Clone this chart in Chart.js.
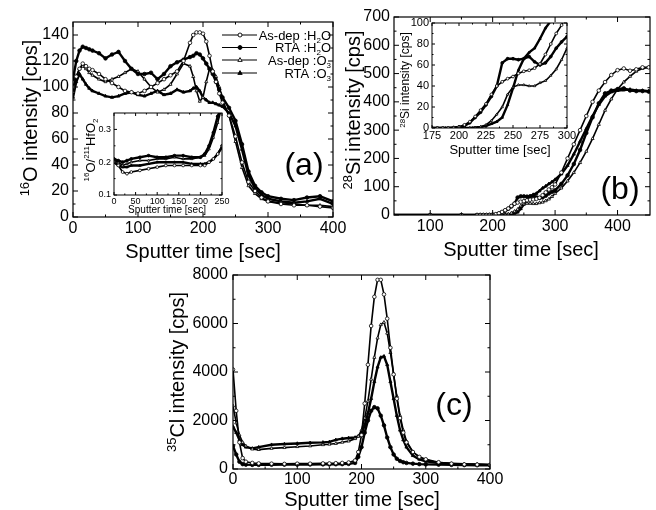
<!DOCTYPE html>
<html>
<head>
<meta charset="utf-8">
<script src="https://cdn.jsdelivr.net/npm/chart.js@4.4.1/dist/chart.umd.min.js"></script>
<style>
  html, body { margin: 0; padding: 0; background: #fff; }
  #wrap { position: relative; width: 656px; height: 510px; overflow: hidden; background: #fff; }
  #wrap canvas { position: absolute; left: 0; top: 0; }
</style>
</head>
<body>
<div id="wrap">
  <canvas id="chartA" width="656" height="510"></canvas>
  <canvas id="chartB" width="656" height="510"></canvas>
  <canvas id="chartC" width="656" height="510"></canvas>
  <canvas id="insetA" width="656" height="510"></canvas>
  <canvas id="insetB" width="656" height="510"></canvas>
</div>
<script>
// ── data ─────────────────────────────────────────────
// (a) 16O intensity
const aTime = [0,5,10,15,20,25,30,40,50,60,70,80,90,100,110,120,130,140,150,160,170,180,185,190,195,200,205,210,215,220,225,230,240,250,260,270,280,290,300,320,340,360,380,400];
const aAsDepH2O = [100,108,114,118,116,114,113,110,106,103,100,97,96,95,97,100,103,106,109,112,120,134,140,142,142,141,135,124,112,104,95,88,78,62,42,27,20,15,12,10,9,9,8,7];
const aRtaH2O = [106,120,128,131,130,129,128,126,122,125,127,120,114,110,110,111,106,110,116,119,121,123,124,126,125,122,118,114,110,104,98,92,84,74,56,35,24,19,16,14,13,15,16,12];
const aAsDepO3 = [96,108,114,116,114,111,109,106,104,106,108,111,114,112,106,100,96,98,102,110,118,116,108,97,89,92,104,114,113,108,100,90,78,58,38,24,18,14,12,11,10,9,9,8];
const aRtaO3 = [92,104,110,106,102,99,97,95,93,92,93,95,96,94,93,95,97,94,95,98,96,97,99,100,97,92,90,88,88,87,86,85,80,70,52,32,22,17,14,12,11,12,14,10];
const aXTicks = [0,100,200,300,400];
const aYTicks = [0,20,40,60,80,100,120,140];

// (a) inset 16O/211HfO2
const iaTime = [0,10,20,30,40,60,80,100,120,140,160,180,200,210,220,230,240,250];
const iaAsDepH2O = [0.2,0.19,0.17,0.165,0.17,0.175,0.18,0.185,0.19,0.19,0.19,0.19,0.19,0.19,0.2,0.21,0.225,0.25];
const iaRtaH2O = [0.21,0.205,0.2,0.205,0.21,0.215,0.22,0.215,0.215,0.22,0.22,0.215,0.215,0.225,0.25,0.29,0.34,0.37];
const iaAsDepO3 = [0.205,0.2,0.19,0.195,0.2,0.205,0.205,0.21,0.21,0.215,0.21,0.21,0.215,0.22,0.24,0.275,0.32,0.37];
const iaRtaO3 = [0.2,0.19,0.185,0.185,0.19,0.19,0.195,0.2,0.2,0.2,0.2,0.195,0.195,0.195,0.2,0.21,0.225,0.245];
const iaXTicks = [0,50,100,150,200,250];
const iaYTicks = [0.1,0.2,0.3];

// (b) 28Si intensity (main and inset share the data)
const bTime = [40,100,150,175,180,185,190,195,200,205,210,215,220,225,230,235,240,245,250,255,260,265,270,275,280,285,290,295,300,310,320,330,340,350,360,370,380,390,400,410,420,430,440,450];
const bAsDepH2O = [0,0,0,0,0,0,0,0,1,3,6,11,17,23,32,40,44,47,49,52,54,55,57,61,70,80,90,98,108,150,200,250,300,350,400,440,470,495,512,518,510,515,522,522];
const bRtaH2O = [0,0,0,0,0,0,0,0.5,1,2,5,10,15,22,30,40,62,66,66,65,66,68,63,60,62,68,76,82,87,110,140,180,230,290,345,395,430,440,445,448,440,438,438,436];
const bAsDepO3 = [0,0,0,0,0,0,0,0,0,0,0,0,1,3,7,13,20,32,39,41,41,40,40,43,45,50,56,65,76,95,120,150,185,225,270,320,370,410,445,470,490,508,518,522];
const bRtaO3 = [0,0,0,0,0,0,0,0,0,0,0,0.5,1,2,4,6,10,22,38,55,66,72,76,85,95,102,110,117,125,145,175,215,260,305,350,390,420,435,440,442,444,440,440,438];
const bXTicks = [100,200,300,400];
const bYTicks = [0,100,200,300,400,500,600,700];
const ibXTicks = [175,200,225,250,275,300];
const ibYTicks = [0,20,40,60,80,100];

// (c) 35Cl intensity
const cTime = [0,5,10,15,20,30,40,60,80,100,120,140,150,160,170,180,190,195,200,205,210,215,220,225,230,235,240,245,250,255,260,265,270,280,290,300,320,340,360,380,400];
const cAsDepH2O = [4100,2400,1100,450,300,250,230,220,210,220,220,230,230,240,250,270,350,700,1400,2700,4300,5900,7100,7800,7800,7200,6200,5000,3900,2900,2100,1500,1100,700,500,400,280,220,190,180,170];
const cRtaH2O = [950,600,300,200,180,170,170,175,180,180,185,190,190,195,200,210,250,500,900,1500,2000,2400,2550,2500,2200,1800,1300,900,600,420,330,280,250,220,200,190,180,170,160,155,150];
const cAsDepO3 = [2600,1900,1400,1100,950,820,800,850,880,920,950,1000,1020,1050,1100,1150,1250,1350,1600,2100,2800,3700,4600,5400,5950,6050,5600,4800,3900,3000,2200,1600,1150,700,500,380,260,220,200,190,180];
const cRtaO3 = [1750,1500,1200,1000,900,850,900,1000,1030,1050,1080,1100,1120,1200,1250,1280,1300,1350,1450,1800,2300,2900,3600,4200,4600,4650,4300,3600,2900,2200,1600,1200,900,550,400,320,250,220,200,190,170];
const cXTicks = [0,100,200,300,400];
const cYTicks = [0,2000,4000,6000,8000];

// ── style ────────────────────────────────────────────
const W = 656, H = 510;
const FONT = "'Liberation Sans', Arial, Helvetica, sans-serif";
// order: As-dep H2O, RTA H2O, As-dep O3, RTA O3
const STYLE = [
  { shape: "circle", fill: "#fff", lw: 1.6 },
  { shape: "circle", fill: "#000", lw: 2.4 },
  { shape: "triangle", fill: "#fff", lw: 1.6 },
  { shape: "triangle", fill: "#000", lw: 2.4 },
];
const LEGEND = [
  [["As-dep :H", ""], ["2", "sub"], ["O", ""]],
  [["RTA :H", ""], ["2", "sub"], ["O", ""]],
  [["As-dep :O", ""], ["3", "sub"]],
  [["RTA :O", ""], ["3", "sub"]],
];

function drawRich(ctx, parts, x, y, size, rotate, align) {
  ctx.save();
  ctx.translate(x, y);
  if (rotate) ctx.rotate(-Math.PI / 2);
  const small = Math.round(size * 0.64);
  const widths = parts.map(([t, k]) => {
    ctx.font = (k ? small : size) + "px " + FONT;
    return ctx.measureText(t).width;
  });
  const total = widths.reduce((s, w) => s + w, 0);
  let cx = align === "right" ? -total : align === "left" ? 0 : -total / 2;
  ctx.fillStyle = "#000";
  ctx.textAlign = "left";
  ctx.textBaseline = "alphabetic";
  parts.forEach(([t, k], i) => {
    ctx.font = (k ? small : size) + "px " + FONT;
    const dy = k === "sup" ? -size * 0.4 : k === "sub" ? size * 0.22 : 0;
    ctx.fillText(t, cx, size * 0.36 + dy);
    cx += widths[i];
  });
  ctx.restore();
}

function drawMarker(ctx, shape, fill, x, y, r) {
  ctx.beginPath();
  if (shape === "circle") {
    ctx.arc(x, y, r, 0, Math.PI * 2);
  } else {
    ctx.moveTo(x, y - r * 1.2);
    ctx.lineTo(x + r * 1.1, y + r * 0.7);
    ctx.lineTo(x - r * 1.1, y + r * 0.7);
    ctx.closePath();
  }
  ctx.fillStyle = fill;
  ctx.fill();
  ctx.lineWidth = 0.9;
  ctx.strokeStyle = "#000";
  ctx.stroke();
}

// frame, inward ticks, titles and legend
const framePlugin = {
  id: "frame",
  beforeDraw(chart, args, opts) {
    if (!opts.white) return;
    const a = chart.chartArea;
    const ctx = chart.ctx;
    ctx.save();
    ctx.fillStyle = "#fff";
    ctx.fillRect(a.left, a.top, a.right - a.left, a.bottom - a.top);
    ctx.restore();
  },
  afterDraw(chart, args, opts) {
    const { ctx, chartArea: a, scales } = chart;
    const L = opts.tick || 5;
    ctx.save();
    ctx.strokeStyle = "#000";
    ctx.lineWidth = opts.lw || 1.2;
    ctx.strokeRect(a.left, a.top, a.right - a.left, a.bottom - a.top);
    ctx.lineWidth = 1;
    ctx.beginPath();
    const xs = scales.x.ticks.map((t) => scales.x.getPixelForValue(t.value));
    const ys = scales.y.ticks.map((t) => scales.y.getPixelForValue(t.value));
    xs.forEach((px, i) => {
      ctx.moveTo(px, a.bottom); ctx.lineTo(px, a.bottom - L);
      ctx.moveTo(px, a.top); ctx.lineTo(px, a.top + L);
      if (i > 0) {
        const m = (px + xs[i - 1]) / 2;
        ctx.moveTo(m, a.bottom); ctx.lineTo(m, a.bottom - L / 2);
        ctx.moveTo(m, a.top); ctx.lineTo(m, a.top + L / 2);
      }
    });
    ys.forEach((py, i) => {
      ctx.moveTo(a.left, py); ctx.lineTo(a.left + L, py);
      ctx.moveTo(a.right, py); ctx.lineTo(a.right - L, py);
      if (i > 0) {
        const m = (py + ys[i - 1]) / 2;
        ctx.moveTo(a.left, m); ctx.lineTo(a.left + L / 2, m);
        ctx.moveTo(a.right, m); ctx.lineTo(a.right - L / 2, m);
      }
    });
    ctx.stroke();
    (opts.texts || []).forEach((t) => drawRich(ctx, t.parts, t.x, t.y, t.size, t.rot, t.align));
    if (opts.legend) {
      const rows = [35, 47.5, 60, 73];
      rows.forEach((ry, i) => {
        ctx.beginPath();
        ctx.moveTo(222, ry); ctx.lineTo(257, ry);
        ctx.lineWidth = 1.2;
        ctx.strokeStyle = "#000";
        ctx.stroke();
        drawMarker(ctx, STYLE[i].shape, STYLE[i].fill, 240, ry, 2);
        drawRich(ctx, LEGEND[i], 331, ry, 13, false, "right");
      });
    }
    ctx.restore();
  },
};

function lines(times, series, pr) {
  return series.map((vals, i) => ({
    data: times.map((t, j) => ({ x: t, y: vals[j] })),
    borderColor: "#000",
    borderWidth: STYLE[i].lw,
    pointStyle: STYLE[i].shape,
    pointRadius: pr,
    pointBackgroundColor: STYLE[i].fill,
    pointBorderColor: "#000",
    pointBorderWidth: 0.8,
    tension: 0,
    clip: 0,
  }));
}

function makeChart(id, o) {
  const axis = (ticks, min, max, size, pad, fit, fmt) => ({
    type: "linear",
    min: min,
    max: max,
    grid: { display: false, drawTicks: false },
    border: { display: false },
    afterFit: fit,
    afterBuildTicks: (s) => { s.ticks = ticks.map((v) => ({ value: v })); },
    ticks: {
      color: "#000",
      font: { family: FONT, size: size },
      padding: pad,
      maxRotation: 0,
      autoSkip: false,
      callback: fmt || ((v) => String(v)),
    },
  });
  return new Chart(document.getElementById(id), {
    type: "line",
    data: { datasets: o.datasets },
    options: {
      responsive: false,
      animation: false,
      events: [],
      layout: {
        padding: { left: o.box.l - o.yW, top: o.box.t, right: W - o.box.r, bottom: H - o.box.b - o.xH },
      },
      plugins: { legend: { display: false }, tooltip: { enabled: false }, frame: o.frame },
      scales: {
        x: axis(o.xTicks, o.xMin, o.xMax, o.font, o.xPad, (s) => { s.height = o.xH; }),
        y: axis(o.yTicks, o.yMin, o.yMax, o.font, o.yPad, (s) => { s.width = o.yW; }, o.yFmt),
      },
    },
    plugins: [framePlugin],
  });
}

const sputter = [["Sputter time [sec]", ""]];

// ── (a) ──────────────────────────────────────────────
makeChart("chartA", {
  box: { l: 73, t: 22, r: 333, b: 217 }, yW: 40, xH: 24, font: 16, xPad: 2, yPad: 4,
  xMin: 0, xMax: 400, yMin: 0, yMax: 150, xTicks: aXTicks, yTicks: aYTicks,
  datasets: lines(aTime, [aAsDepH2O, aRtaH2O, aAsDepO3, aRtaO3], 1.8),
  frame: {
    legend: true,
    texts: [
      { parts: [["16", "sup"], ["O intensity [cps]", ""]], x: 30, y: 118, size: 20, rot: true },
      { parts: sputter, x: 203, y: 251, size: 20 },
      { parts: [["(a)", ""]], x: 304, y: 163, size: 32 },
    ],
  },
});

// ── (b) ──────────────────────────────────────────────
makeChart("chartB", {
  box: { l: 394, t: 17, r: 650, b: 215 }, yW: 40, xH: 24, font: 16, xPad: 2, yPad: 4,
  xMin: 42, xMax: 452, yMin: 0, yMax: 700, xTicks: bXTicks, yTicks: bYTicks,
  datasets: lines(bTime, [bAsDepH2O, bRtaH2O, bAsDepO3, bRtaO3], 1.8),
  frame: {
    texts: [
      { parts: [["28", "sup"], ["Si intensity [cps]", ""]], x: 353, y: 110, size: 20, rot: true },
      { parts: sputter, x: 521, y: 249, size: 20 },
      { parts: [["(b)", ""]], x: 620, y: 187, size: 32 },
    ],
  },
});

// ── (c) ──────────────────────────────────────────────
makeChart("chartC", {
  box: { l: 233, t: 275, r: 490, b: 469 }, yW: 40, xH: 22, font: 16, xPad: 1, yPad: 5,
  xMin: 0, xMax: 400, yMin: 0, yMax: 8000, xTicks: cXTicks, yTicks: cYTicks,
  datasets: lines(cTime, [cAsDepH2O, cRtaH2O, cAsDepO3, cRtaO3], 1.8),
  frame: {
    texts: [
      { parts: [["35", "sup"], ["Cl intensity [cps]", ""]], x: 177, y: 372, size: 20, rot: true },
      { parts: sputter, x: 362, y: 499, size: 20 },
      { parts: [["(c)", ""]], x: 454, y: 403, size: 32 },
    ],
  },
});

// ── (a) inset ────────────────────────────────────────
makeChart("insetA", {
  box: { l: 114, t: 113, r: 222, b: 195 }, yW: 22, xH: 12, font: 9, xPad: 1, yPad: 3,
  xMin: 0, xMax: 250, yMin: 0.1, yMax: 0.35, xTicks: iaXTicks, yTicks: iaYTicks,
  yFmt: (v) => v.toFixed(1),
  datasets: lines(iaTime, [iaAsDepH2O, iaRtaH2O, iaAsDepO3, iaRtaO3], 1.4),
  frame: {
    white: true, tick: 3, lw: 1,
    texts: [
      { parts: [["16", "sup"], ["O/", ""], ["211", "sup"], ["HfO", ""], ["2", "sub"]], x: 90, y: 150, size: 13, rot: true },
      { parts: sputter, x: 167, y: 209, size: 10 },
    ],
  },
});

// ── (b) inset ────────────────────────────────────────
makeChart("insetB", {
  box: { l: 432, t: 23, r: 567, b: 128 }, yW: 24, xH: 14, font: 11, xPad: 1, yPad: 3,
  xMin: 175, xMax: 300, yMin: 0, yMax: 100, xTicks: ibXTicks, yTicks: ibYTicks,
  datasets: lines(bTime, [bAsDepH2O, bRtaH2O, bAsDepO3, bRtaO3], 1.4),
  frame: {
    white: true, tick: 3, lw: 1,
    texts: [
      { parts: [["28", "sup"], ["Si intensity [cps]", ""]], x: 405, y: 80, size: 12, rot: true },
      { parts: sputter, x: 500, y: 149, size: 13 },
    ],
  },
});
</script>
</body>
</html>
